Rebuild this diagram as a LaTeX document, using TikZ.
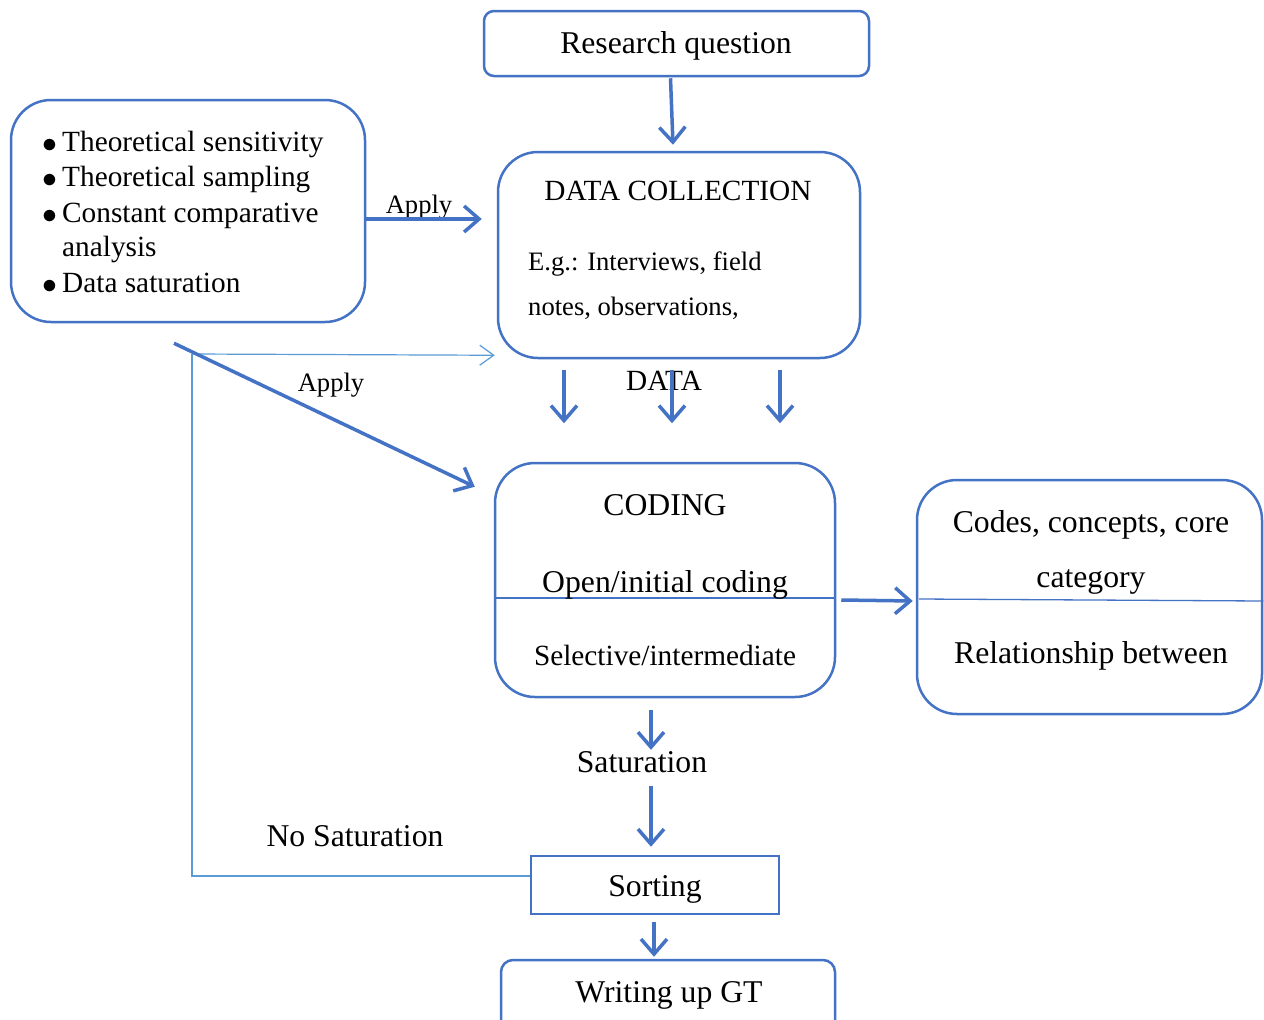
\documentclass[tikz,border=0pt]{standalone}
\usepackage{fontspec}
\usepackage{graphicx}
\setmainfont{Liberation Serif}
\usetikzlibrary{arrows.meta,calc}
\definecolor{mainblue}{HTML}{4472C4}
\definecolor{thinblue}{HTML}{5B9BD5}
\newcommand{\mybul}{\makebox[20pt][l]{\raisebox{-1.2pt}{\scalebox{1.2}{$\bullet$}}}}
\begin{document}
\begin{tikzpicture}[x=1pt,y=-1pt,
  box/.style={draw=mainblue,line width=2.5pt,rounded corners=40pt,inner sep=0pt,fill=white},
  tL/.style={inner sep=0pt,font=\fontsize{31.7}{36}\selectfont},
  tM/.style={inner sep=0pt,font=\fontsize{29.3}{34}\selectfont},
  tS/.style={inner sep=0pt,font=\fontsize{26.6}{30}\selectfont},
  arr/.style={draw=mainblue,line width=3.5pt,-{Straight Barb[length=15pt,width=26pt]}},
  thinarr/.style={draw=thinblue,line width=1.2pt,-{Straight Barb[length=14pt,width=20pt]}},
  thinline/.style={draw=thinblue,line width=1.2pt},
  divider/.style={draw=mainblue,line width=1.3pt}]
\clip (0,0) rectangle (1264,1020);
\fill[white] (0,0) rectangle (1264,1020);

% boxes
\node[box,rounded corners=10pt,minimum width=385pt,minimum height=65pt] (rq) at (676.5,43.5) {};
\node[box,minimum width=362pt,minimum height=206pt] (dc) at (679,255) {};
\node[box,minimum width=354pt,minimum height=222pt] (th) at (188,211) {};
\node[box,minimum width=340pt,minimum height=234pt] (cod) at (665,580) {};
\node[box,minimum width=345pt,minimum height=234pt] (rel) at (1089.5,597) {};
\node[box,rounded corners=0pt,minimum width=248pt,minimum height=58pt] (sort) at (655,885) {};
\node[box,rounded corners=12pt,minimum width=334pt,minimum height=90pt] (wr) at (668,1005) {};

% dividers
\draw[divider] (cod.west |- 0,598) -- (cod.east |- 0,598);
\draw[divider] (919,599) -- (rel.east |- 0,601);

% texts
\node[tL,anchor=base] (rqt) at (676,53) {Research question};
\node[tM,anchor=base] (dct) at (678,200) {DATA COLLECTION};
\node[tS,anchor=base west] (dce1) at (528,270) {E.g.: Interviews, field};
\node[tS,anchor=base west] (dce2) at (528,315) {notes, observations,};

\node[tM,anchor=base west] (b1) at (42,151) {\mybul Theoretical sensitivity};
\node[tM,anchor=base west] (b2) at (42,186) {\mybul Theoretical sampling};
\node[tM,anchor=base west] (b3) at (42,222) {\mybul Constant comparative};
\node[tM,anchor=base west] (b3b) at (62,256) {analysis};
\node[tM,anchor=base west] (b4) at (42,292) {\mybul Data saturation};

\node[tS,anchor=base] (ap1) at (419,213) {Apply};
\node[tS,anchor=base] (ap2) at (331,391) {Apply};
\node[tM,anchor=base] (data) at (664,390) {DATA};

\node[tL,anchor=base] (codt) at (665,515) {CODING};
\node[tL,anchor=base] (codo) at (665,592) {Open/initial coding};
\node[tM,anchor=base] (cods) at (665,665) {Selective/intermediate};

\node[tL,anchor=base] (r1) at (1091,532) {Codes, concepts, core};
\node[tL,anchor=base] (r2) at (1091,587) {category};
\node[tL,anchor=base] (r3) at (1091,663) {Relationship between};

\node[tL,anchor=base] (sat) at (642,772) {Saturation};
\node[tL,anchor=base] (nosat) at (355,846) {No Saturation};
\node[tL,anchor=base] (sortt) at (655,896) {Sorting};
\node[tL,anchor=base] (wrt) at (669,1002) {Writing up GT};

% feedback (thin) line
\coordinate (fb) at (192,354);
\draw[thinline] ($(sort.west)+(0,-9)$) -| (fb);
\draw[thinarr] (fb) -- ($(dc.south west)+(-2,-4)$);

% arrows
\draw[arr] ($(rq.south)+(-6,1)$) -- ($(dc.north)+(-6,-6)$);
\draw[arr] ($(th.east)+(0,8)$) -- ($(dc.west)+(-15,-36)$);
\draw[arr] ($(th.south)+(-14,20)$) -- ($(cod.north west)+(-19,25)$);
\draw[arr] ($(dc.south)+(-115,11)$) -- ($(dc.south)+(-115,64)$);
\draw[arr] ($(dc.south)+(-7,11)$) -- ($(dc.south)+(-7,64)$);
\draw[arr] ($(dc.south)+(101,11)$) -- ($(dc.south)+(101,64)$);
\draw[arr] ($(cod.east)+(5,20)$) -- ($(rel.west)+(-3,4)$);
\draw[arr] ($(cod.south)+(-14,12)$) -- ($(sat.north)+(9,-1)$);
\draw[arr] ($(sat.south)+(9,13)$) -- ($(sort.north)+(-4,-8)$);
\draw[arr] ($(sort.south)+(-1,7)$) -- ($(wr.north)+(-14,-2)$);
\end{tikzpicture}
\end{document}
